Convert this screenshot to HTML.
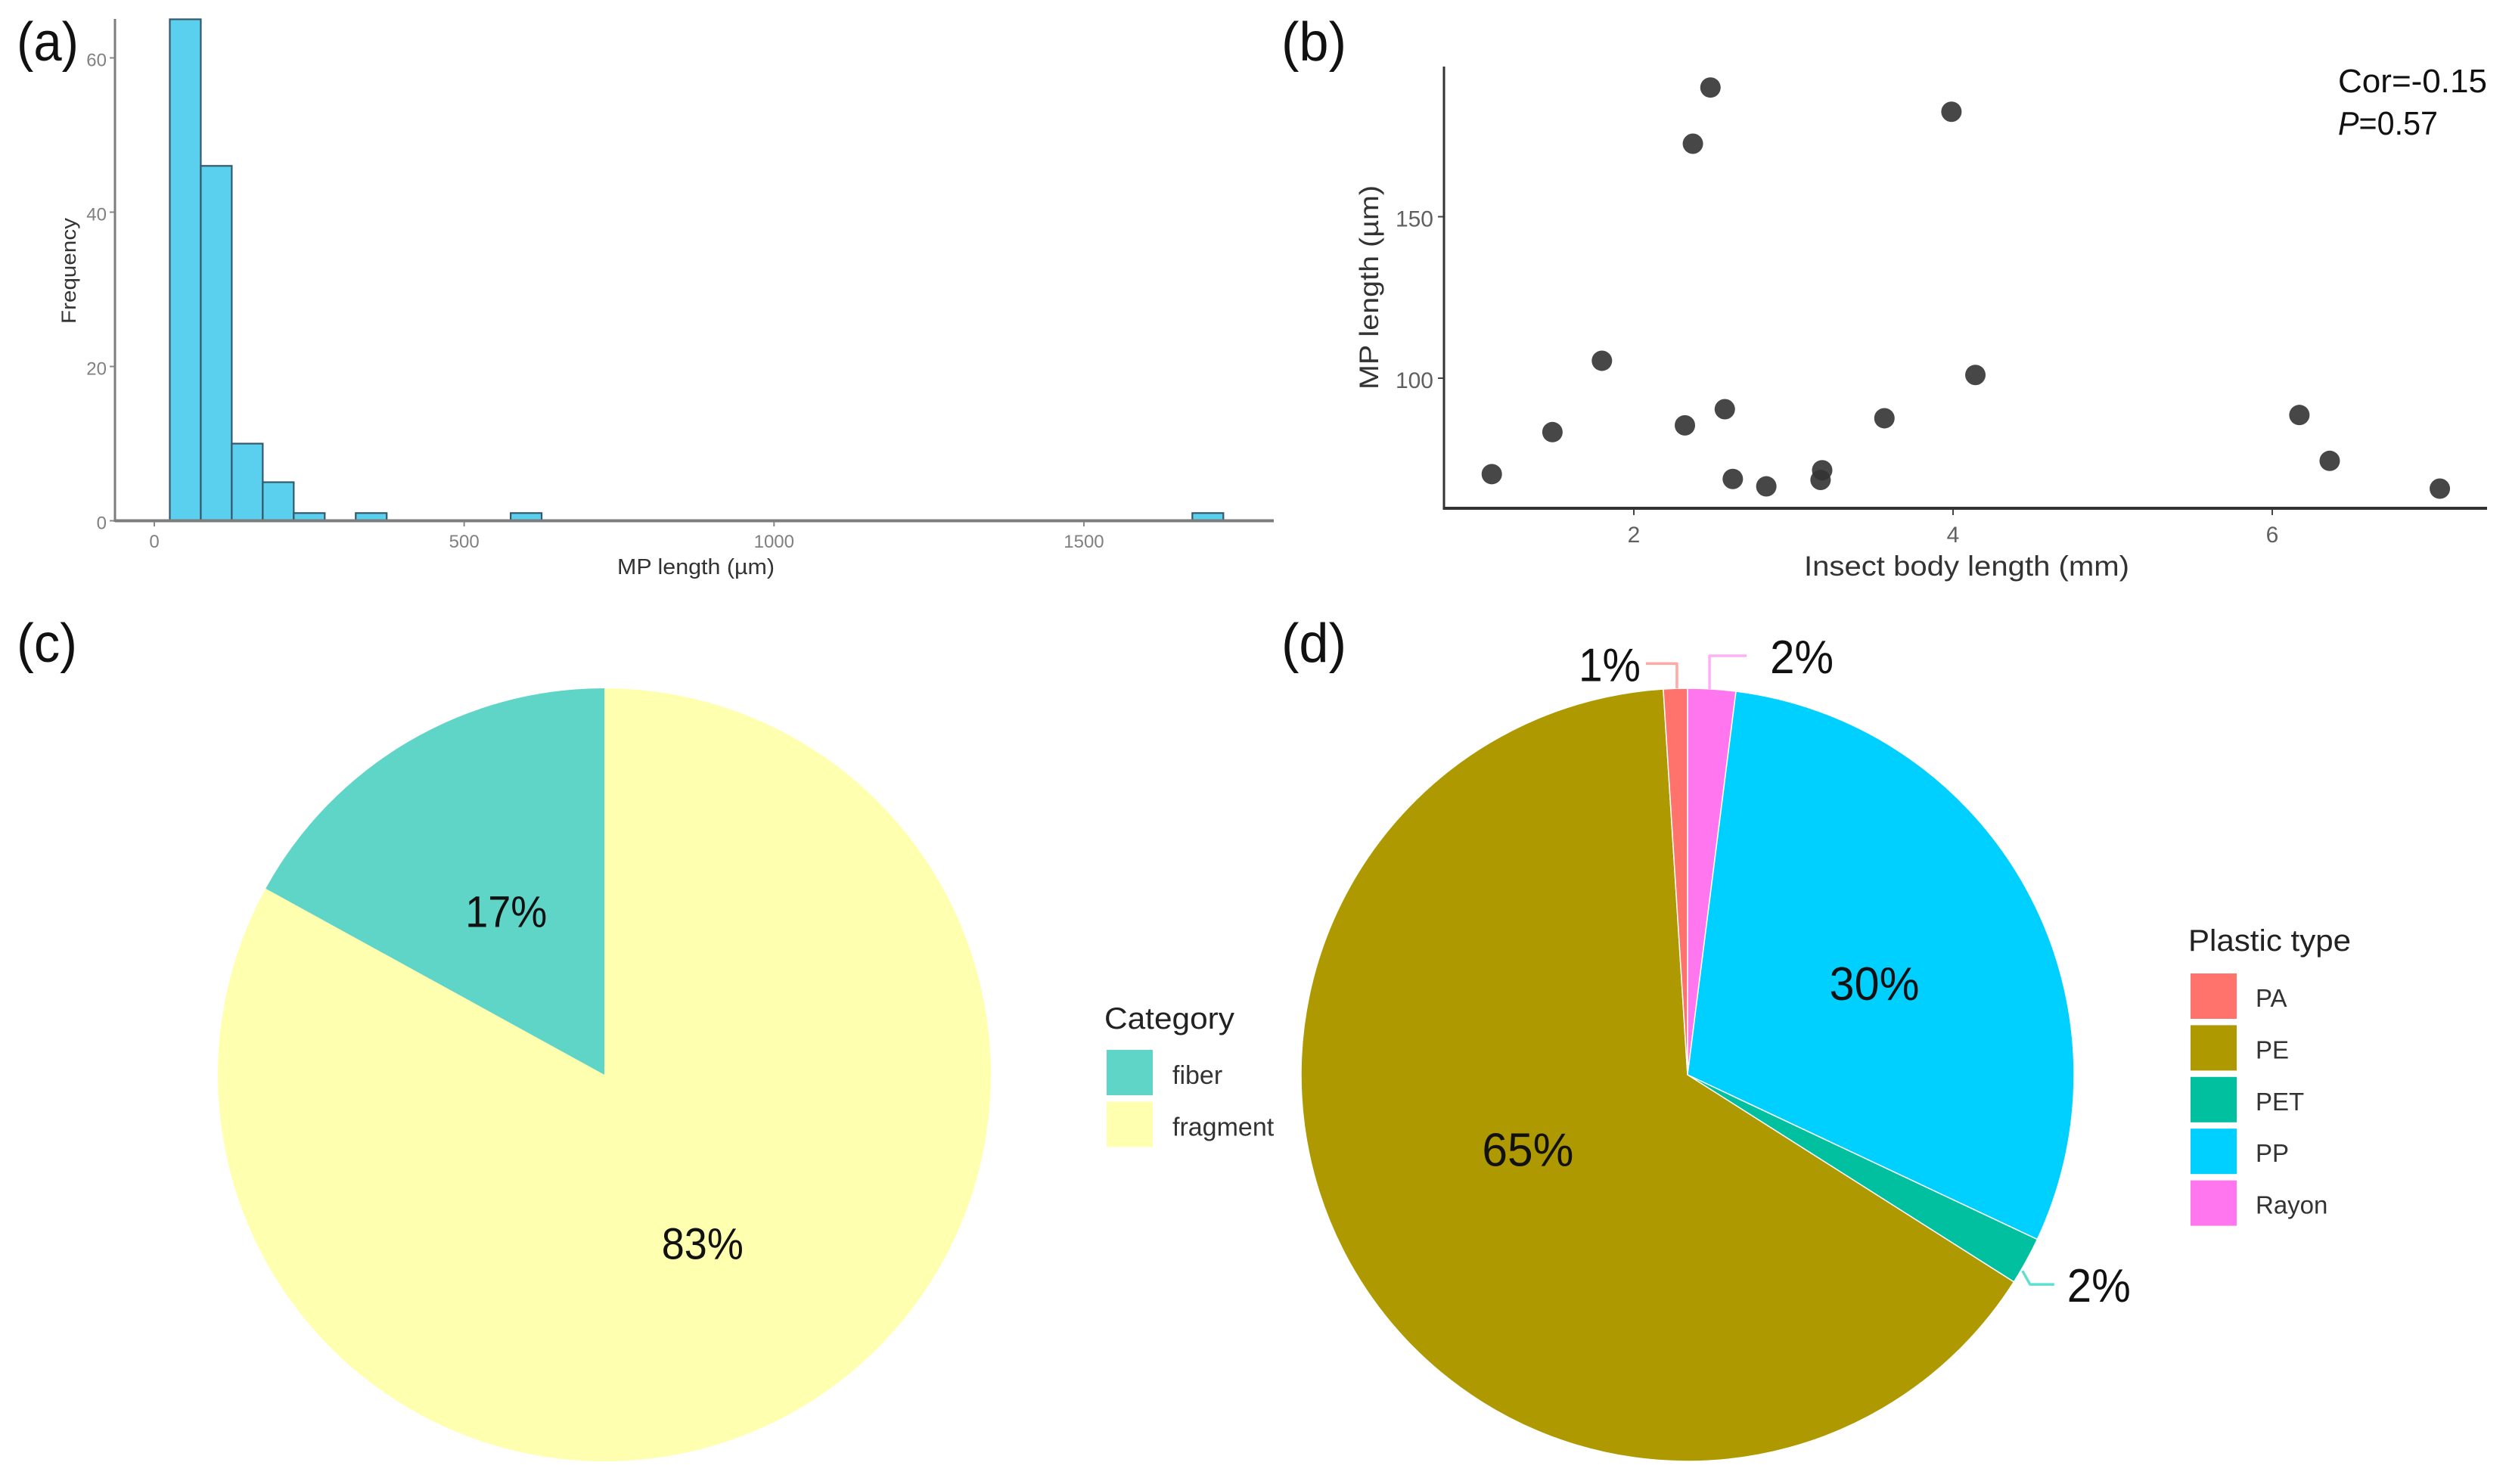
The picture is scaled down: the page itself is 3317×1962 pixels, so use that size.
<!DOCTYPE html>
<html lang="en">
<head>
<meta charset="utf-8">
<title>Microplastic length, shape and polymer type</title>
<style>
html,body{margin:0;padding:0;background:#fff;}
svg{display:block;}
text{font-family:"Liberation Sans",Arial,sans-serif;}
</style>
</head>
<body>
<svg id="figure" xmlns="http://www.w3.org/2000/svg" width="3317" height="1962" viewBox="0 0 3317 1962">
  <rect x="0" y="0" width="3317" height="1962" fill="#ffffff"/>

  <text x="22" y="80" font-size="72" fill="#111" textLength="82" lengthAdjust="spacingAndGlyphs">(a)</text>
  <text x="1694" y="80" font-size="72" fill="#111" textLength="86" lengthAdjust="spacingAndGlyphs">(b)</text>
  <text x="22" y="875" font-size="72" fill="#111" textLength="80" lengthAdjust="spacingAndGlyphs">(c)</text>
  <text x="1694" y="875" font-size="72" fill="#111" textLength="86" lengthAdjust="spacingAndGlyphs">(d)</text>

  <g id="panel-a">
    <text x="920" y="759" font-size="29" fill="#333" text-anchor="middle" textLength="208" lengthAdjust="spacingAndGlyphs">MP length (µm)</text>
    <text transform="translate(100,358) rotate(-90)" font-size="27" fill="#333" text-anchor="middle" textLength="140" lengthAdjust="spacingAndGlyphs">Frequency</text>
  </g>

  <g id="panel-b">
    <text x="2600" y="761" font-size="37" fill="#333" text-anchor="middle" textLength="430" lengthAdjust="spacingAndGlyphs">Insect body length (mm)</text>
    <text transform="translate(1822,380) rotate(-90)" font-size="35" fill="#333" text-anchor="middle" textLength="270" lengthAdjust="spacingAndGlyphs">MP length (µm)</text>
    <text x="3091" y="122" font-size="44" fill="#111" textLength="197" lengthAdjust="spacingAndGlyphs">Cor=-0.15</text>
    <text x="3091" y="178" font-size="44" fill="#111" textLength="132" lengthAdjust="spacingAndGlyphs"><tspan font-style="italic">P</tspan>=0.57</text>
  </g>

  <g id="panel-c">
    <text x="1460" y="1360" font-size="40" fill="#222" textLength="172" lengthAdjust="spacingAndGlyphs">Category</text>
  </g>

  <g id="panel-d">
    <text x="2893" y="1257" font-size="40" fill="#222" textLength="215" lengthAdjust="spacingAndGlyphs">Plastic type</text>
  </g>
</svg>

<script>
/* Panel (a) histogram data */
var histBinLower = [25, 75, 125, 175, 225, 325, 575, 1675];
var histCounts = [65, 46, 10, 5, 1, 1, 1, 1];
var histBinWidth = 50;
var histXTicks = [0, 500, 1000, 1500];
var histYTicks = [0, 20, 40, 60];

/* Panel (b) scatter data */
var bodyLength = [1.11, 1.49, 1.80, 2.32, 2.37, 2.48, 2.57, 2.62, 2.83, 3.17, 3.18, 3.57, 3.99, 4.14, 6.17, 6.36, 7.05];
var mpLength = [70.3, 83.3, 105.4, 85.4, 172.6, 190, 90.4, 68.8, 66.5, 68.5, 71.5, 87.6, 182.5, 101, 88.6, 74.4, 65.8];
var scatterXTicks = [2, 4, 6];
var scatterYTicks = [100, 150];

/* Panel (c) pie data */
var shapeCategories = ["fiber", "fragment"];
var shapeValues = [17, 83];

/* Panel (d) pie data, clockwise from 12 o'clock */
var plasticPieOrder = ["Rayon", "PP", "PET", "PE", "PA"];
var plasticPieValues = [2, 30, 2, 65, 1];
var plasticLegendOrder = ["PA", "PE", "PET", "PP", "Rayon"];

var NS = "http://www.w3.org/2000/svg";
function make(tag, attrs, parent, txt) {
  var node = document.createElementNS(NS, tag);
  for (var k in attrs) node.setAttribute(k, attrs[k]);
  if (txt !== undefined) node.textContent = txt;
  parent.appendChild(node);
  return node;
}

/* ---------- Panel (a) ---------- */
var pa = document.getElementById("panel-a");
function histX(v) { return 204 + v * 0.8193; }
function histY(v) { return 688.5 - v * 10.2; }

histCounts.forEach(function (count, i) {
  var lower = histBinLower[i];
  var bar = make("rect", {
    x: histX(lower), y: histY(count),
    width: histX(lower + histBinWidth) - histX(lower),
    height: histY(0) - histY(count),
    fill: "#5bd0ee", stroke: "#35596a", "stroke-width": 2.2
  }, pa);
  
  
});

var hxAxis = make("line", { x1: 152, x2: 1684, y1: 688.5, y2: 688.5, stroke: "#7d7d7d", "stroke-width": 4 }, pa);


var hyAxis = make("line", { x1: 152, x2: 152, y1: 25, y2: 690, stroke: "#7d7d7d", "stroke-width": 3 }, pa);



histXTicks.forEach(function (t) {
  var mark = make("line", { x1: histX(t), x2: histX(t), y1: 690, y2: 696, stroke: "#888", "stroke-width": 2 }, pa);
  
  
  var label = make("text", { x: histX(t), y: 724, "font-size": 24, fill: "#808080", "text-anchor": "middle" }, pa, String(t));
  
  
});
histYTicks.forEach(function (t) {
  var mark = make("line", { x1: 145, x2: 151, y1: histY(t), y2: histY(t), stroke: "#888", "stroke-width": 2 }, pa);
  
  
  var label = make("text", { x: 141, y: histY(t) + 11, "font-size": 24, fill: "#808080", "text-anchor": "end" }, pa, String(t));
  
  
});

/* ---------- Panel (b) ---------- */
var pb = document.getElementById("panel-b");
function scatX(v) { return 2160 + (v - 2) * 211; }
function scatY(v) { return 500 - (v - 100) * 4.27; }

bodyLength.forEach(function (v, i) {
  var dot = make("circle", { cx: scatX(v), cy: scatY(mpLength[i]), r: 13.5, fill: "#333333", "fill-opacity": 0.9 }, pb);
  
  
});

var sxAxis = make("line", { x1: 1908, x2: 3288, y1: 672, y2: 672, stroke: "#333", "stroke-width": 4 }, pb);


var syAxis = make("line", { x1: 1909, x2: 1909, y1: 88, y2: 674, stroke: "#333", "stroke-width": 3 }, pb);



scatterXTicks.forEach(function (t) {
  var mark = make("line", { x1: scatX(t), x2: scatX(t), y1: 674, y2: 681, stroke: "#444", "stroke-width": 2 }, pb);
  
  
  var label = make("text", { x: scatX(t), y: 717, "font-size": 30, fill: "#606060", "text-anchor": "middle" }, pb, String(t));
  
  
});
scatterYTicks.forEach(function (t) {
  var mark = make("line", { x1: 1901, x2: 1908, y1: scatY(t), y2: scatY(t), stroke: "#444", "stroke-width": 2 }, pb);
  
  
  var label = make("text", { x: 1895, y: scatY(t) + 13, "font-size": 30, fill: "#606060", "text-anchor": "end" }, pb, String(t));
  
  
});

/* ---------- Pie helpers ---------- */
function rimPoint(cx, cy, r, deg) {
  var a = deg * Math.PI / 180;
  return [cx + r * Math.sin(a), cy - r * Math.cos(a)];
}
function wedgePath(cx, cy, r, a0, a1) {
  var p0 = rimPoint(cx, cy, r, a0), p1 = rimPoint(cx, cy, r, a1);
  var large = (a1 - a0) > 180 ? 1 : 0;
  return "M" + cx + " " + cy + " L" + p0[0] + " " + p0[1] + " A" + r + " " + r + " 0 " + large + " 1 " + p1[0] + " " + p1[1] + " Z";
}
function total(list) { return list.reduce(function (s, v) { return s + v; }, 0); }
function pctLabel(parent, x, y, value, size, width) {
  var t = make("text", {
    x: x, y: y, "font-size": size, fill: "#111", "text-anchor": "middle",
    textLength: width, lengthAdjust: "spacingAndGlyphs"
  }, parent, value + "%");
  
  
  return t;
}

/* ---------- Panel (c) ---------- */
var pc = document.getElementById("panel-c");
var shapeColors = { fiber: "#5fd5c8", fragment: "#ffffb0" };
var cCx = 799, cCy = 1421, cR = 511;
var cStart = 360 - shapeValues[0] / total(shapeValues) * 360;
var cAngle = cStart;
shapeCategories.forEach(function (name, i) {
  var sweep = shapeValues[i] / total(shapeValues) * 360;
  var slice = make("path", { d: wedgePath(cCx, cCy, cR, cAngle, cAngle + sweep), fill: shapeColors[name] }, pc);
  
  
  cAngle += sweep;
});
cAngle = cStart;
shapeCategories.forEach(function (name, i) {
  var sweep = shapeValues[i] / total(shapeValues) * 360;
  var c = rimPoint(cCx, cCy, 255, cAngle + sweep / 2);
  pctLabel(pc, c[0], c[1] + 24, shapeValues[i], 58, 108);
  cAngle += sweep;
});
shapeCategories.forEach(function (name, i) {
  var swatch = make("rect", { x: 1463, y: 1388 + i * 68.5, width: 61, height: 60, fill: shapeColors[name] }, pc);
  
  
  var label = make("text", { x: 1550, y: 1433 + i * 68.5, "font-size": 34, fill: "#333" }, pc, name);
  
  
});

/* ---------- Panel (d) ---------- */
var pd = document.getElementById("panel-d");
var plasticColors = { PA: "#ff736c", PE: "#ae9900", PET: "#00c0a0", PP: "#00d0ff", Rayon: "#ff76ee" };
var dCx = 2231, dCy = 1421, dR = 511;
var dTotal = total(plasticPieValues);
var dAngle = 0;
plasticPieOrder.forEach(function (name, i) {
  var sweep = plasticPieValues[i] / dTotal * 360;
  var slice = make("path", {
    d: wedgePath(dCx, dCy, dR, dAngle, dAngle + sweep),
    fill: plasticColors[name], stroke: "#ffffff", "stroke-width": 1.5
  }, pd);
  
  
  dAngle += sweep;
});

function callout(points, color) {
  var line = make("polyline", {
    points: points.map(function (p) { return p.join(","); }).join(" "),
    fill: "none", stroke: color, "stroke-width": 3.5, "stroke-linejoin": "round"
  }, pd);
  
  
}

dAngle = 0;
plasticPieOrder.forEach(function (name, i) {
  var v = plasticPieValues[i];
  var sweep = v / dTotal * 360;
  var mid = dAngle + sweep / 2;
  var rim = rimPoint(dCx, dCy, dR, mid);
  if (name === "PP") {
    var c1 = rimPoint(dCx, dCy, 275, mid + 2.7);
    pctLabel(pd, c1[0], c1[1] + 22, v, 62, 119);
  } else if (name === "PE") {
    var c2 = rimPoint(dCx, dCy, 233, mid + 5.6);
    pctLabel(pd, c2[0], c2[1] + 22, v, 62, 121);
  } else if (name === "Rayon") {
    callout([[rim[0] - 3, rim[1]], [rim[0] - 3, rim[1] - 44], [rim[0] + 46, rim[1] - 44]], "#ffb0f5");
    pctLabel(pd, rim[0] + 119, rim[1] - 21, v, 62, 84);
  } else if (name === "PA") {
    callout([[rim[0] + 2, rim[1]], [rim[0] + 2, rim[1] - 33], [rim[0] - 39, rim[1] - 33]], "#ffaaa6");
    pctLabel(pd, rim[0] - 87, rim[1] - 10, v, 62, 82);
  } else if (name === "PET") {
    callout([[rim[0] - 5, rim[1] + 13], [rim[0] + 5, rim[1] + 31], [rim[0] + 37, rim[1] + 31]], "#5fe0cf");
    pctLabel(pd, rim[0] + 96, rim[1] + 54, v, 62, 84);
  }
  dAngle += sweep;
});

plasticLegendOrder.forEach(function (name, i) {
  var swatch = make("rect", { x: 2896, y: 1287 + i * 68.4, width: 61, height: 60, fill: plasticColors[name] }, pd);
  
  
  var label = make("text", { x: 2982, y: 1331 + i * 68.4, "font-size": 33, fill: "#333" }, pd, name);
  
  
});
</script>
</body>
</html>
